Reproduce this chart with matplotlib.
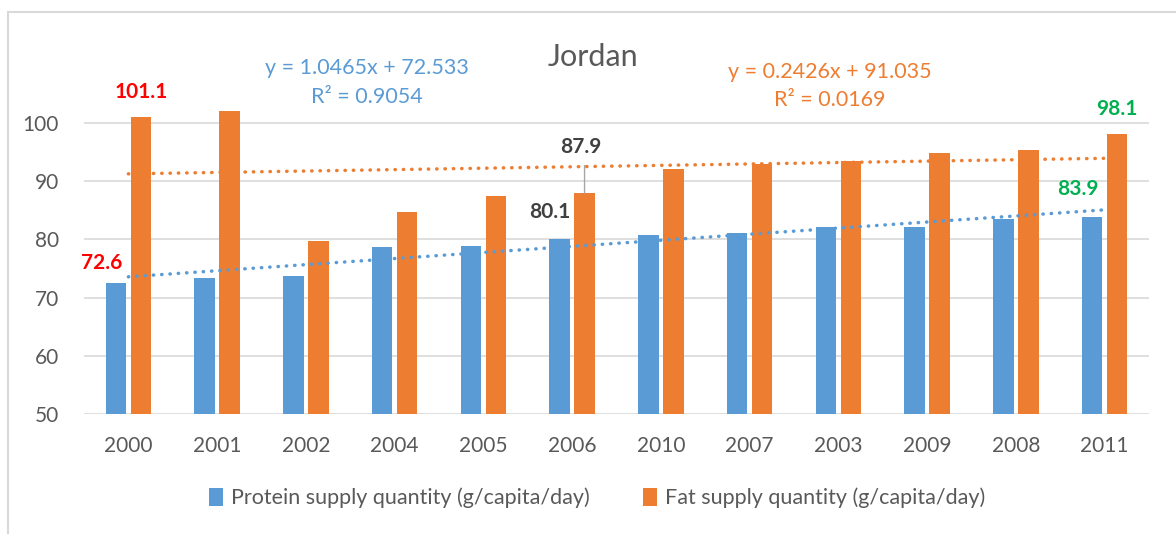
#!/usr/bin/python3

import numpy as np
import matplotlib
matplotlib.use("Agg")
import matplotlib.pyplot as plt
from matplotlib.patches import Rectangle

# ---------------------------------------------------------------------------
# Data (years ordered by protein supply)
# ---------------------------------------------------------------------------

years   = ["2000", "2001", "2002", "2004", "2005", "2006",
           "2010", "2007", "2003", "2009", "2008", "2011"]
protein = [72.6, 73.4, 73.8, 78.7, 78.9, 80.1, 80.8, 81.1, 82.1, 82.2, 83.5, 83.9]
fat     = [101.1, 102.0, 79.8, 84.7, 87.5, 87.9, 92.1, 93.0, 93.4, 94.8, 95.4, 98.1]

# Linear trend lines as shown on the chart (x = 1 .. 12)
protein_slope, protein_icpt, protein_r2 = 1.0465, 72.533, 0.9054
fat_slope,     fat_icpt,     fat_r2     = 0.2426, 91.035, 0.0169

series_names = ["Protein supply quantity (g/capita/day)",
                "Fat supply quantity (g/capita/day)"]

# ---------------------------------------------------------------------------
# Style
# ---------------------------------------------------------------------------

BLUE   = "#5B9BD5"
ORANGE = "#ED7D31"
GREY   = "#595959"
GRID   = "#D9D9D9"
RED    = "#FF0000"
GREEN  = "#00B050"
DARK   = "#404040"

plt.rcParams['font.family'] = ['Lato', 'DejaVu Sans']

W, H = 1176, 534
fig = plt.figure(figsize=(W / 100, H / 100), dpi=100)
ax = fig.add_axes([84 / W, 1 - 414 / H, (1149 - 84) / W, (414 - 94) / H])

# outer chart frame
fig.patches.append(Rectangle((8 / W, -0.05), 1.1, 1 - 12 / H + 0.05,
                             transform=fig.transFigure, fill=False,
                             edgecolor=GRID, linewidth=1.5))

# ---------------------------------------------------------------------------
# Bars
# ---------------------------------------------------------------------------

x = np.arange(len(years))
bw, off = 0.23, 0.14
ax.bar(x - off, protein, bw, color=BLUE, label=series_names[0], zorder=2)
ax.bar(x + off, fat,     bw, color=ORANGE, label=series_names[1], zorder=2)

# Trend lines
xt = np.array([0, len(years) - 1])
ax.plot(xt, protein_slope * (xt + 1) + protein_icpt, color=BLUE, lw=2.5,
        linestyle=(0, (0.1, 2.3)), dash_capstyle="round", zorder=3)
ax.plot(xt, fat_slope * (xt + 1) + fat_icpt, color=ORANGE, lw=2.5,
        linestyle=(0, (0.1, 2.3)), dash_capstyle="round", zorder=3)

ax.set_xlim(-0.5, len(years) - 0.5)
ax.set_ylim(50, 105)
ax.set_yticks(range(50, 101, 10))
ax.set_xticks(x)
ax.set_xticklabels(years)
ax.yaxis.grid(True, color=GRID, linewidth=1.2, zorder=0)
ax.set_axisbelow(True)
for s in ax.spines.values():
    s.set_visible(False)
ax.tick_params(length=0, labelsize=15, colors=GREY, pad=16)
ax.tick_params(axis="y", pad=18)

# ---------------------------------------------------------------------------
# Data labels
# ---------------------------------------------------------------------------

def label(xv, yv, txt, color, dx, dy):
    ax.annotate(txt, (xv, yv), xytext=(dx, dy), textcoords="offset pixels",
                ha="center", va="center", fontsize=15, fontweight="bold",
                color=color, annotation_clip=False)

label(0 + off, fat[0], "%.1f" % fat[0], RED, 0, 25)
label(0 - off, protein[0], "%.1f" % protein[0], RED, -14, 20)
label(5 - off, protein[5], "%.1f" % protein[5], DARK, -10, 27)
label(11 + off, fat[11], "%.1f" % fat[11], GREEN, 0, 25)
label(11 - off, protein[11], "%.1f" % protein[11], GREEN, -14, 28)

# 2006 fat label with a leader line
ax.annotate("%.1f" % fat[5], (5 + off, fat[5]), xytext=(-4, 46),
            textcoords="offset pixels", ha="center", va="center",
            fontsize=15, fontweight="bold", color=DARK,
            annotation_clip=False)
ax.annotate("", (5 + off, fat[5]), xytext=(0, 28), textcoords="offset pixels",
            arrowprops=dict(arrowstyle="-", color="#A6A6A6", lw=1,
                            shrinkA=0, shrinkB=0))

# ---------------------------------------------------------------------------
# Title, trend equations, legend
# ---------------------------------------------------------------------------

fig.text(593 / W, 1 - 57 / H, "Jordan", ha="center", va="center",
         fontsize=22, color=GREY)

fig.text(367 / W, 1 - 68 / H, "y = %.4fx + %.3f" % (protein_slope, protein_icpt),
         ha="center", va="center", fontsize=15.5, color=BLUE)
fig.text(367 / W, 1 - 97 / H, "R² = %.4f" % protein_r2,
         ha="center", va="center", fontsize=15.5, color=BLUE)
fig.text(830 / W, 1 - 72 / H, "y = %.4fx + %.3f" % (fat_slope, fat_icpt),
         ha="center", va="center", fontsize=15.5, color=ORANGE)
fig.text(830 / W, 1 - 100 / H, "R² = %.4f" % fat_r2,
         ha="center", va="center", fontsize=15.5, color=ORANGE)

fig.legend(loc="center", bbox_to_anchor=(597 / W, 1 - 498 / H), ncol=2,
           frameon=False, fontsize=15.5, labelcolor=GREY, handlelength=0.65,
           handleheight=0.9, handletextpad=0.35, columnspacing=2.5)

fig.savefig("out.png", dpi=100)
